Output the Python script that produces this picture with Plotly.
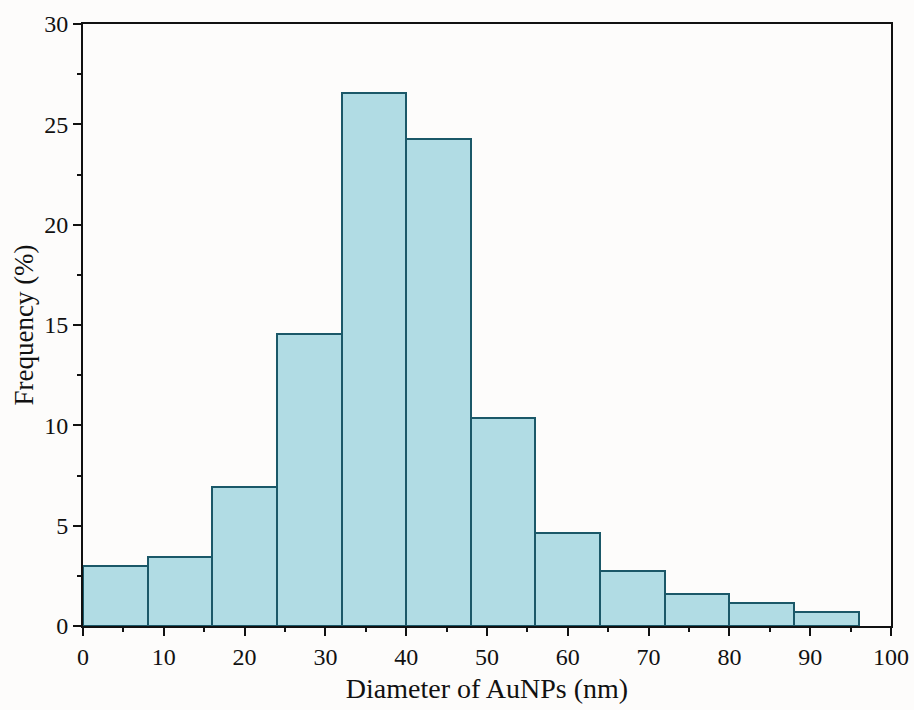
import plotly.graph_objects as go

bin_left = [0, 8, 16, 24, 32, 40, 48, 56, 64, 72, 80, 88]
bin_width = 8
frequency = [2.99, 3.46, 6.93, 14.56, 26.55, 24.25, 10.37, 4.62, 2.76, 1.6, 1.15, 0.68]

x_centers = [b + bin_width / 2 for b in bin_left]

fig = go.Figure()
fig.add_trace(go.Bar(
    x=x_centers, y=frequency, width=[bin_width] * len(bin_left),
    marker=dict(color="#b1dce4", line=dict(color="#1b5868", width=2)),
))

font = "Liberation Serif"
fig.update_layout(
    width=914, height=710,
    margin=dict(l=83, r=23, t=24, b=84),
    paper_bgcolor="#fdfcfb", plot_bgcolor="#fdfcfb",
    showlegend=False, bargap=0,
    font=dict(family=font, color="#111", size=24),
)
fig.update_xaxes(
    range=[0, 100], dtick=10, tick0=0, automargin=False,
    showgrid=False, zeroline=False,
    showline=True, linecolor="#111", linewidth=2, mirror=True,
    ticks="outside", ticklen=8, tickwidth=2, tickcolor="#111",
    minor=dict(ticks="outside", ticklen=4, tickwidth=2, dtick=5, tickcolor="#111"),
    tickfont=dict(size=24, family=font),
    title=dict(text="Diameter of AuNPs (nm)", font=dict(size=28, family=font), standoff=10),
)
fig.update_yaxes(
    range=[0, 30], dtick=5, tick0=0, automargin=False,
    showgrid=False, zeroline=False,
    showline=True, linecolor="#111", linewidth=2, mirror=True,
    ticks="outside", ticklen=8, tickwidth=2, tickcolor="#111",
    minor=dict(ticks="outside", ticklen=4, tickwidth=2, dtick=2.5, tickcolor="#111"),
    tickfont=dict(size=24, family=font),
    title=dict(text="Frequency (%)", font=dict(size=27, family=font), standoff=3),
)

fig.write_html("out.html")
